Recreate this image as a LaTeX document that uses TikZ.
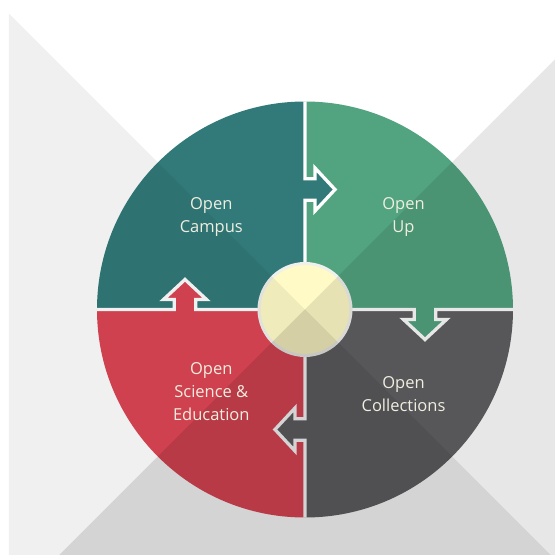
\documentclass[tikz,border=0pt]{standalone}
\usepackage{xcolor}
\usepackage{tikz}
\usepackage{fontspec}
\setmainfont{Open Sans}
\usetikzlibrary{positioning}

\definecolor{campuscol}{RGB}{50,122,122}
\definecolor{upcol}{RGB}{82,163,127}
\definecolor{collectcol}{RGB}{97,97,100}
\definecolor{sciencecol}{RGB}{222,70,86}
\definecolor{hubcol}{RGB}{255,250,198}
\definecolor{hubline}{RGB}{240,240,236}
\definecolor{labelcol}{RGB}{240,238,224}

\begin{document}
\begin{tikzpicture}[x=1pt,y=1pt]
	\tikzstyle{label}=[align=center,text=labelcol,font=\fontsize{16.5}{23}\selectfont]
	\tikzstyle{gap}=[draw=white,line width=3.3pt,line join=miter]
	\useasboundingbox (-305,-245.5) rectangle (250,309.5);
	\clip (-305,-245.5) rectangle (250,309.5);
	\fill[white] (-305,-245.5) rectangle (250,309.5);
	% four quarters
	\foreach \ang/\col in {0/campuscol,-90/upcol,-180/collectcol,-270/sciencecol}
		\fill[\col,rotate=\ang] (0,0) -- (0,208) arc (90:180:208) -- cycle;
	% arrows into the next quarter
	\foreach \ang/\col in {0/campuscol,-90/upcol,-180/collectcol,-270/sciencecol}
		\fill[\col,rotate=\ang] (-2,109.25) -- (10,109.25) -- (10,98.5) -- (30,120) -- (10,141.5) -- (10,130.75) -- (-2,130.75) -- cycle;
	% white cuts
	\foreach \ang in {0,-90,-180,-270}
		\draw[gap,rotate=\ang] (0,40) -- (0,109.25) -- (10,109.25) -- (10,98.5) -- (30,120) -- (10,141.5) -- (10,130.75) -- (0,130.75) -- (0,208);
	\draw[draw=hubline,line width=3pt,fill=hubcol] (0,0) circle (46);
	% shading of the cross
	\fill[black,opacity=0.06] (0,0) -- (-296,296) -- (-296,-296) -- cycle;
	\fill[black,opacity=0.095] (0,0) -- (296,296) -- (296,-296) -- cycle;
	\fill[black,opacity=0.17] (0,0) -- (-296,-296) -- (296,-296) -- cycle;
	\node[label](campus) at (-93.7,92.9) {Open\\Campus};
	\node[label](up) at (98.5,92.9) {Open\\Up};
	\node[label](collections) at (98.5,-84.3) {Open\\Collections};
	\node[label](science) at (-93.7,-82.4) {Open\\Science \&\\Education};
\end{tikzpicture}
\end{document}
